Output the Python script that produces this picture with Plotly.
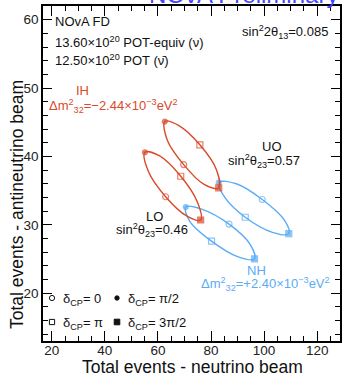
import plotly.graph_objects as go

# Marker points, delta_CP order: 0, pi/2, pi, 3pi/2
IH_UO_x = [69.7, 62.6, 75.8, 82.9]
IH_UO_y = [38.8, 45.1, 41.7, 35.4]
IH_LO_x = [62.9, 55.1, 68.6, 76.1]
IH_LO_y = [34.1, 40.6, 37.1, 30.7]
NH_UO_x = [99.3, 82.9, 92.9, 109.3]
NH_UO_y = [33.7, 36.2, 31.1, 28.7]
NH_LO_x = [86.8, 70.5, 80.2, 96.4]
NH_LO_y = [30.1, 32.6, 27.6, 25.0]

# Curve points read along each ellipse, delta_CP order 0, 45, 90, ..., 315 deg
IH_UO_cx = [69.7, 63.5, 62.6, 67.9, 75.8, 82.0, 82.9, 77.4]
IH_UO_cy = [38.8, 42.4, 45.1, 44.5, 41.7, 38.1, 35.4, 35.9]
IH_LO_cx = [62.9, 56.3, 55.1, 60.5, 68.6, 74.9, 76.1, 70.8]
IH_LO_cy = [34.1, 37.9, 40.6, 40.1, 37.1, 33.3, 30.7, 31.3]
NH_UO_cx = [99.3, 89.5, 82.9, 85.2, 92.9, 103.1, 109.3, 107.6]
NH_UO_cy = [33.7, 36.0, 36.2, 34.0, 31.1, 28.9, 28.7, 30.7]
NH_LO_cx = [86.8, 76.4, 70.5, 72.0, 80.2, 90.2, 96.4, 94.8]
NH_LO_cy = [30.1, 32.3, 32.6, 30.5, 27.6, 25.3, 25.0, 27.1]

RED = "#d94a2b"
BLUE = "#5aacf5"
FONT = "Liberation Sans"

# plot area in pixels
L, R, T, B = 43, 340, 6, 341
W, H = 342, 376

fig = go.Figure()

marker_syms = ["circle-open", "circle", "square-open", "square"]
marker_sizes = [6, 5, 6, 6]


def add_ellipse(cx, cy, xs, ys, color):
    fig.add_trace(go.Scatter(
        x=cx + [cx[0]], y=cy + [cy[0]], mode="lines",
        line=dict(color=color, width=1.4, shape="spline", smoothing=1.0),
        hoverinfo="skip", showlegend=False))
    fig.add_trace(go.Scatter(
        x=xs, y=ys, mode="markers",
        marker=dict(symbol=marker_syms, size=marker_sizes, color=color,
                    line=dict(color=color, width=1.2)),
        showlegend=False))


add_ellipse(NH_LO_cx, NH_LO_cy, NH_LO_x, NH_LO_y, BLUE)
add_ellipse(NH_UO_cx, NH_UO_cy, NH_UO_x, NH_UO_y, BLUE)
add_ellipse(IH_LO_cx, IH_LO_cy, IH_LO_x, IH_LO_y, RED)
add_ellipse(IH_UO_cx, IH_UO_cy, IH_UO_x, IH_UO_y, RED)


def px2paper(px, py):
    return (px - L) / (R - L), (B - py) / (B - T)


anns = []


def ann(text, px, py, anchor="left", color="#111111", size=13, angle=0):
    sup, sub = "<sup>" in text, "<sub>" in text
    shift = 1 if (sup and sub) else 2 if sup else -1 if sub else 0
    x, y = px2paper(px, py - shift)
    anns.append(dict(text=text, x=x, y=y, xref="paper", yref="paper",
                     xanchor=anchor, yanchor="middle", showarrow=False, textangle=angle,
                     font=dict(family=FONT, size=size, color=color)))


ann("NOvA Preliminary", 340, -6, anchor="right", color="#4646ff", size=24)
ann("NOvA FD", 53, 21)
ann("13.60×10<sup>20</sup> POT-equiv (ν)", 53, 44)
ann("12.50×10<sup>20</sup> POT (ν̄)", 53, 62)
ann("sin<sup>2</sup>2θ<sub>13</sub>=0.085", 330, 33, anchor="right")
ann("IH", 82, 91, anchor="center", color=RED)
ann("Δm<sup>2</sup><sub>32</sub>=−2.44×10<sup>−3</sup>eV<sup>2</sup>", 47, 107, color=RED)
ann("UO", 272, 146, anchor="center")
ann("sin<sup>2</sup>θ<sub>23</sub>=0.57", 264, 162, anchor="center")
ann("LO", 154, 216, anchor="center")
ann("sin<sup>2</sup>θ<sub>23</sub>=0.46", 152, 231, anchor="center")
ann("NH", 256, 270, anchor="center", color=BLUE)
ann("Δm<sup>2</sup><sub>32</sub>=+2.40×10<sup>−3</sup>eV<sup>2</sup>", 332, 285, anchor="right", color=BLUE)

# axis titles (ROOT-style placement)
ann("Total events - neutrino beam", 192, 367, anchor="center", size=17.5)
ann("Total events - antineutrino beam", 17, 205, anchor="center", size=17.5, angle=-90)

legend_labels = ["δ<sub>CP</sub>= 0", "δ<sub>CP</sub>= π/2", "δ<sub>CP</sub>= π", "δ<sub>CP</sub>= 3π/2"]
legend_pos = [(52, 298), (117, 298), (52, 322), (117, 322)]
legend_shape = [("circle", False, 2.6), ("circle", True, 2.2), ("rect", False, 2.6), ("rect", True, 2.8)]
shapes = []
for lab, (px, py), (typ, filled, r) in zip(legend_labels, legend_pos, legend_shape):
    ann(lab, px + 9, py)
    x, y = px2paper(px, py)
    shapes.append(dict(type=typ, xref="paper", yref="paper", xsizemode="pixel", ysizemode="pixel",
                       xanchor=x, yanchor=y, x0=-r, x1=r, y0=-r, y1=r,
                       line=dict(color="#111111", width=1),
                       fillcolor="#111111" if filled else "rgba(0,0,0,0)"))

axis_common = dict(showline=True, linecolor="black", linewidth=1.6, mirror="ticks",
                   ticks="inside", tickcolor="black", tickwidth=1.2,
                   showgrid=False, zeroline=False, automargin=False,
                   tickfont=dict(family=FONT, size=13.5, color="#222222"))

fig.update_layout(
    template="none",
    width=W, height=H,
    margin=dict(l=L, r=W - R, t=T, b=H - B, autoexpand=False),
    paper_bgcolor="white", plot_bgcolor="white",
    showlegend=False,
    annotations=anns, shapes=shapes,
    xaxis=dict(range=[16.7, 128.6], tick0=0, dtick=20, ticklen=10, ticklabelstandoff=-4,
               minor=dict(dtick=5, ticklen=5, ticks="inside", tickcolor="black", tickwidth=1.1),
               **axis_common),
    yaxis=dict(range=[13, 62], tick0=0, dtick=10, ticklen=9,
               minor=dict(dtick=2, ticklen=5, ticks="inside", tickcolor="black", tickwidth=1.1),
               **axis_common),
)

fig.write_html("out.html", config={"displayModeBar": False},
               post_script="document.body.style.margin='0';")
